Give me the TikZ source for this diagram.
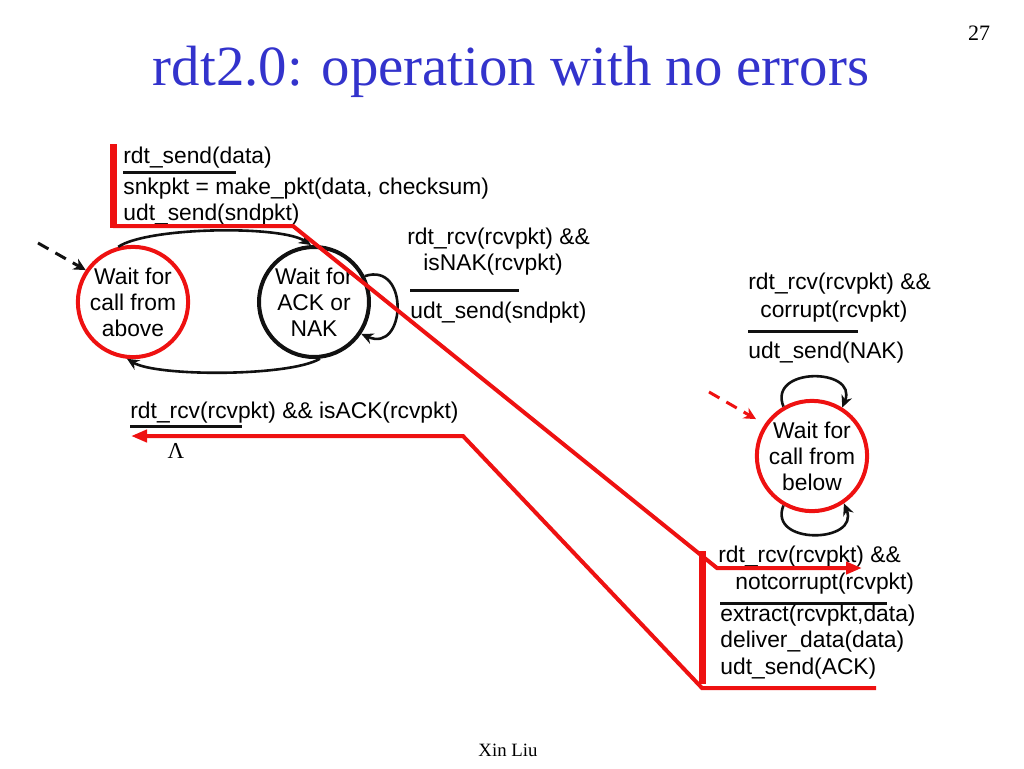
\documentclass[tikz,border=0pt]{standalone}
\usepackage{fontspec}
\setmainfont{Liberation Sans}
\newfontfamily\timesfont{Liberation Serif}
\usepackage{tikz}
\usetikzlibrary{calc, positioning, arrows.meta}
\definecolor{titleBlue}{HTML}{3333CC}
\definecolor{pathRed}{HTML}{EE1111}
\definecolor{inkBlack}{HTML}{111111}
\tikzset{
  state/.style = {circle, draw=inkBlack, line width=2pt, fill=white, align=center,
                  minimum size=55pt, inner sep=0pt, font=\fontsize{11.4}{13}\selectfont},
  redstate/.style = {state, draw=pathRed},
  lbl/.style   = {anchor=base west, inner sep=0pt, font=\fontsize{11.4}{13}\selectfont},
  rule/.style  = {draw=inkBlack, line width=1.5pt},
  fl/.style    = {-{Stealth[length=6pt, width=5.5pt]}, draw=inkBlack, line width=1.3pt},
  init/.style  = {-{Stealth[length=6pt, width=6pt]}, line width=1.5pt, dash pattern=on 6pt off 4pt},
  hot/.style   = {draw=pathRed, line width=2pt},
  hotbar/.style= {draw=pathRed, line width=3.5pt},
  hotarr/.style= {hot, -{Triangle[length=8pt, width=6pt]}}
}

\begin{document}
\begin{tikzpicture}[x=0.5pt, y=-0.5pt]
  \useasboundingbox (0,0) rectangle (1024,768);

  % title, page number, footer
  \node[anchor=base, inner sep=0pt, text=titleBlue, font=\timesfont\fontsize{28.4}{30}\selectfont]
    (title) at (511,85) {rdt2.0: operation with no errors};
  \node[anchor=base, inner sep=0pt, font=\timesfont\fontsize{11}{12}\selectfont] (page) at (979,40) {27};
  \node[anchor=base, inner sep=0pt, font=\timesfont\fontsize{9.4}{10}\selectfont] (foot) at (508,756) {Xin Liu};

  % sender
  \node[redstate] (above) at (133,302) {Wait for\\call from\\above};
  \node[state] (acknak) at (314,302) {Wait for\\ACK or\\NAK};

  % receiver
  \node[redstate] (below) at (812,456) {Wait for\\call from\\below};

  % initial arrows
  \coordinate (start1) at (38,243);
  \coordinate (start2) at (709,392);
  \draw[init, inkBlack] (start1) -- (above.146);
  \draw[init, pathRed, shorten >=5pt] (start2) -- (below.146);

  % sender transitions
  \draw[fl] (above.105) .. controls +(30,-20) and +(-30,-20) .. (acknak.93);
  \draw[fl] (acknak.-84) .. controls +(-30,18) and +(30,18) .. (above.-96);
  \draw[fl] (acknak.27) .. controls +(45,-15) and +(45,20) .. (acknak.-34);

  % receiver self loops
  \draw[fl] (below.120) .. controls +(-16,-40) and +(16,-40) .. (below.58);
  \draw[fl] (below.-120) .. controls +(-16,40) and +(16,40) .. (below.-56);

  % labels: rdt_send
  \node[lbl] (sndev) at (123,163) {rdt\_send(data)};
  \draw[rule] (123,172) -- (236,172);
  \node[lbl] (sndact1) at (123,194) {snkpkt = make\_pkt(data, checksum)};
  \node[lbl] (sndact2) at (123,220) {udt\_send(sndpkt)};

  % labels: isNAK
  \node[lbl] (nakev1) at (407,244) {rdt\_rcv(rcvpkt) \&\&};
  \node[lbl] (nakev2) at (423,270) {isNAK(rcvpkt)};
  \draw[rule] (410,290) -- (519,290);
  \node[lbl] (nakact) at (410,318) {udt\_send(sndpkt)};

  % labels: isACK
  \node[lbl] (ackev) at (130,418) {rdt\_rcv(rcvpkt) \&\& isACK(rcvpkt)};
  \draw[rule] (130,426) -- (242,426);
  \node[anchor=base, inner sep=0pt, font=\timesfont\fontsize{11.4}{13}\selectfont] (lam) at (176,458) {Λ};

  % labels: corrupt
  \node[lbl] (corev1) at (748,289) {rdt\_rcv(rcvpkt) \&\&};
  \node[lbl] (corev2) at (760,317) {corrupt(rcvpkt)};
  \draw[rule] (748,331) -- (858,331);
  \node[lbl] (coract) at (748,358) {udt\_send(NAK)};

  % labels: notcorrupt
  \node[lbl] (okev1) at (718,562) {rdt\_rcv(rcvpkt) \&\&};
  \node[lbl] (okev2) at (735,589) {notcorrupt(rcvpkt)};
  \draw[rule] (720,603) -- (887,603);
  \node[lbl] (okact1) at (720,621) {extract(rcvpkt,data)};
  \node[lbl] (okact2) at (720,647) {deliver\_data(data)};
  \node[lbl] (okact3) at (720,674) {udt\_send(ACK)};

  % red operation path
  \coordinate (barA1) at (113,144);
  \coordinate (barA2) at (113,228);
  \coordinate (barB1) at (702,551);
  \coordinate (barB2) at (702,684);
  \coordinate (pktOut) at (862,568);
  \coordinate (ackIn) at (131,436);
  \coordinate (ackOut) at (876,688);
  \draw[hotbar] (barA1) -- (barA2);
  \draw[hotarr] (113,226) -- (293,226) -- (717,568) -- (pktOut);
  \draw[hotbar] (barB1) -- (barB2);
  \draw[hotarr] (ackOut) -- (702,688) -- (463,436) -- (ackIn);
\end{tikzpicture}
\end{document}
